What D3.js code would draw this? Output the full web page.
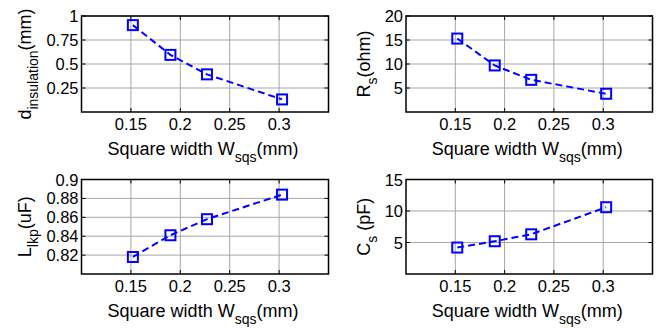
<!DOCTYPE html>
<html>
<head>
<meta charset="utf-8">
<script src="https://cdn.jsdelivr.net/npm/d3@7"></script>
<style>
  body { margin: 0; background: #fff; }
  text { font-family: "Liberation Sans", Arial, sans-serif; fill: #000; }
</style>
</head>
<body>
<svg id="chart" width="661" height="329"></svg>
<script>
// square width (mm), shared by all four panels
const widths = [0.152, 0.19, 0.227, 0.303];
const xTicks = [0.15, 0.2, 0.25, 0.3];

// panel series
const dInsulation = [0.905, 0.595, 0.392, 0.131];
const rS = [15.3, 9.7, 6.7, 3.8];
const lLkp = [0.818, 0.841, 0.858, 0.884];
const cS = [4.2, 5.2, 6.3, 10.6];

// y ticks per panel
const dTicks = [0.25, 0.5, 0.75, 1];
const rTicks = [5, 10, 15, 20];
const lTicks = [0.82, 0.84, 0.86, 0.88, 0.9];
const cTicks = [5, 10, 15];

const tickFmt = d => String(+d.toFixed(3));

const panels = [
  { vals: dInsulation, yDom: [0, 1], yTicks: dTicks, lab: ['d', 'insulation', '(mm)'],
    box: [81.5, 16, 328.5, 112] },
  { vals: rS, yDom: [0, 20], yTicks: rTicks, lab: ['R', 's', '(ohm)'],
    box: [406, 16, 652.5, 112] },
  { vals: lLkp, yDom: [0.8, 0.9], yTicks: lTicks, lab: ['L', 'lkp', '(uF)'],
    box: [81.5, 179.5, 328.5, 274] },
  { vals: cS, yDom: [0, 15], yTicks: cTicks, lab: ['C', 's', ' (pF)'],
    box: [406, 179.5, 652.5, 274] }
];

const svg = d3.select('#chart');
const blue = '#0000ff';

panels.forEach(p => {
  const [x0, y0, x1, y1] = p.box;
  const x = d3.scaleLinear().domain([0.1, 0.35]).range([x0, x1]);
  const y = d3.scaleLinear().domain(p.yDom).range([y1, y0]);
  const g = svg.append('g');

  // grid
  g.selectAll('.gx').data(xTicks).enter().append('line')
    .attr('x1', d => x(d)).attr('x2', d => x(d))
    .attr('y1', y0).attr('y2', y1)
    .style('stroke', '#a6a6a6').style('stroke-width', 1);
  g.selectAll('.gy').data(p.yTicks).enter().append('line')
    .attr('x1', x0).attr('x2', x1)
    .attr('y1', d => y(d)).attr('y2', d => y(d))
    .style('stroke', '#a6a6a6').style('stroke-width', 1);

  // inward ticks on all sides
  const tl = 4;
  xTicks.forEach(t => {
    g.append('line').attr('x1', x(t)).attr('x2', x(t)).attr('y1', y1).attr('y2', y1 - tl).style('stroke', '#000');
    g.append('line').attr('x1', x(t)).attr('x2', x(t)).attr('y1', y0).attr('y2', y0 + tl).style('stroke', '#000');
  });
  p.yTicks.forEach(t => {
    g.append('line').attr('x1', x0).attr('x2', x0 + tl).attr('y1', y(t)).attr('y2', y(t)).style('stroke', '#000');
    g.append('line').attr('x1', x1).attr('x2', x1 - tl).attr('y1', y(t)).attr('y2', y(t)).style('stroke', '#000');
  });

  // box
  g.append('rect').attr('x', x0).attr('y', y0)
    .attr('width', x1 - x0).attr('height', y1 - y0)
    .style('fill', 'none').style('stroke', '#000').style('stroke-width', 1.5);

  // tick labels
  g.selectAll('.tx').data(xTicks).enter().append('text')
    .attr('x', d => x(d)).attr('y', y1 + 18)
    .attr('text-anchor', 'middle').style('font-size', '16.5px')
    .text(tickFmt);
  const yl = g.selectAll('.ty').data(p.yTicks).enter().append('text')
    .attr('x', x0 - 3).attr('y', d => y(d) + 6)
    .attr('text-anchor', 'end').style('font-size', '16.5px')
    .text(tickFmt);
  let maxW = 0;
  yl.each(function() { maxW = Math.max(maxW, this.getComputedTextLength()); });

  // x label
  const xt = g.append('text')
    .attr('x', (x0 + x1) / 2 - 2).attr('y', y1 + 43)
    .attr('text-anchor', 'middle').style('font-size', '18px');
  xt.append('tspan').text('Square width W');
  xt.append('tspan').attr('dy', 7).style('font-size', '14px').text('sqs');
  xt.append('tspan').attr('dy', -7).text('(mm)');

  // y label
  const lx = x0 - 3 - maxW - 15;
  const ly = (y0 + y1) / 2;
  const yt = g.append('text')
    .attr('transform', `translate(${lx},${ly}) rotate(-90)`)
    .attr('text-anchor', 'middle').style('font-size', '18px');
  yt.append('tspan').text(p.lab[0]);
  yt.append('tspan').attr('dy', 7).style('font-size', '14px').text(p.lab[1]);
  yt.append('tspan').attr('dy', -7).text(p.lab[2]);

  // series
  const pts = widths.map((w, i) => [w, p.vals[i]]);
  g.append('path').datum(pts)
    .attr('d', d3.line().x(d => x(d[0])).y(d => y(d[1])))
    .style('fill', 'none').style('stroke', blue)
    .style('stroke-width', 2).style('stroke-dasharray', '7,4');
  g.selectAll('.m').data(pts).enter().append('rect')
    .attr('x', d => x(d[0]) - 5).attr('y', d => y(d[1]) - 5)
    .attr('width', 10).attr('height', 10)
    .style('fill', 'none').style('stroke', blue).style('stroke-width', 2);
});
</script>
</body>
</html>
